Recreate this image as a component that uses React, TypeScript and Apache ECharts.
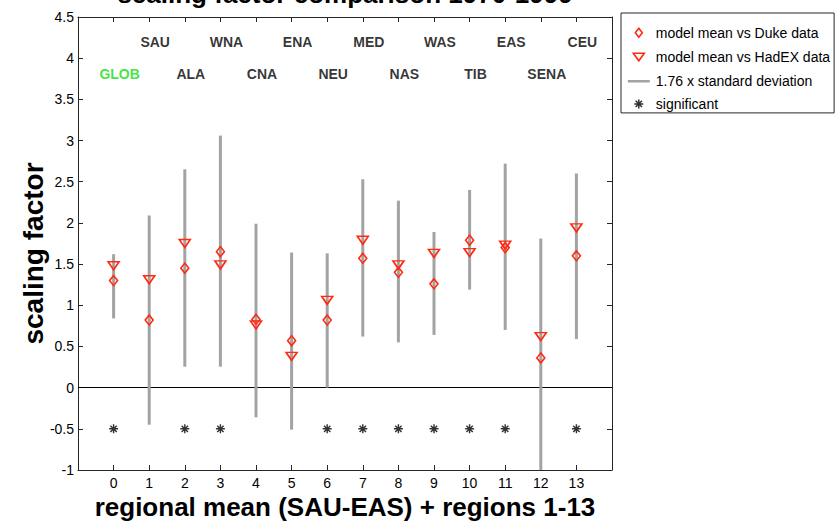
import React, { useEffect, useRef } from 'react';
import * as echarts from 'echarts';

// ---- data ----
const regionIndex = [0, 1, 2, 3, 4, 5, 6, 7, 8, 9, 10, 11, 12, 13];
const regionNames = ['GLOB', 'SAU', 'ALA', 'WNA', 'CNA', 'ENA', 'NEU', 'MED', 'NAS', 'WAS', 'TIB', 'EAS', 'SENA', 'CEU'];
const dukeMean = [1.3, 0.82, 1.45, 1.65, 0.83, 0.57, 0.82, 1.57, 1.4, 1.26, 1.79, 1.7, 0.36, 1.6];
const hadexMean = [1.48, 1.31, 1.75, 1.49, 0.76, 0.38, 1.06, 1.79, 1.49, 1.63, 1.64, 1.73, 0.62, 1.94];
const rangeLow = [0.84, -0.45, 0.255, 0.255, -0.36, -0.51, 0.0, 0.62, 0.55, 0.64, 1.19, 0.7, -1.09, 0.59];
const rangeHigh = [1.62, 2.09, 2.65, 3.06, 1.99, 1.64, 1.63, 2.53, 2.27, 1.89, 2.4, 2.72, 1.81, 2.6];
const significantIdx = [0, 2, 3, 6, 7, 8, 9, 10, 11, 13];
const significantLevel = -0.5;
const labelRowY = [3.81, 4.2]; // even-index row, odd-index row

const RED = '#ff2a10';
const GRAY = '#a3a3a3';
const FONT = '"Liberation Sans", Arial, Helvetica, sans-serif';
const AXIS = '#262626';

function asteriskPath(cx: number, cy: number, L: number, w: number) {
  let d = '';
  for (const deg of [0, 45, 90, 135]) {
    const t = (deg * Math.PI) / 180;
    const c = Math.cos(t);
    const s = Math.sin(t);
    const pts = [[-L, -w], [L, -w], [L, w], [-L, w]].map(([x, y]) => [cx + x * c - y * s, cy + x * s + y * c]);
    d += 'M' + pts.map((p) => p[0].toFixed(3) + ',' + p[1].toFixed(3)).join('L') + 'Z';
  }
  return d;
}

const LEG_PAD = 'M0,0M24,14';

export default function App() {
  const ref = useRef<HTMLDivElement>(null);
  useEffect(() => {
    if (!ref.current) return;
    const chart = echarts.init(ref.current, null, { renderer: 'svg' });

    const axisCommon = {
      type: 'value',
      axisLine: { show: true, onZero: false, lineStyle: { color: AXIS, width: 1 } },
      axisTick: { show: true, inside: true, length: 5, lineStyle: { color: AXIS } },
      splitLine: { show: false },
    };

    const option: any = {
      animation: false,
      backgroundColor: '#fff',
      textStyle: { fontFamily: FONT },
      grid: { left: 78, top: 17, right: 224, bottom: 52, containLabel: false, outerBoundsMode: 'none' },
      graphic: [
        {
          type: 'text',
          x: 345,
          y: 7,
          style: {
            text: 'scaling factor comparison 1970-1999',
            fontFamily: FONT,
            fontSize: 26,
            fontWeight: 'bold',
            fill: '#000',
            align: 'center',
            verticalAlign: 'bottom',
          },
        },
      ],
      xAxis: [
        {
          ...axisCommon,
          position: 'bottom',
          min: -1,
          max: 14,
          interval: 1,
          axisLabel: {
            show: true,
            margin: 8,
            fontSize: 14,
            lineHeight: 10,
            color: '#000',
            fontFamily: FONT,
            formatter: (v: number) => (v < regionIndex[0] || v > regionIndex[regionIndex.length - 1] ? '' : String(v)),
          },
          name: 'regional mean (SAU-EAS) + regions 1-13',
          nameLocation: 'middle',
          nameGap: 25,
          nameMoveOverlap: false,
          nameTextStyle: { fontSize: 26, lineHeight: 24, fontWeight: 'bold', color: '#000', fontFamily: FONT },
        },
        {
          ...axisCommon,
          position: 'top',
          min: -1,
          max: 14,
          interval: 1,
          axisLabel: { show: false },
        },
      ],
      yAxis: [
        {
          ...axisCommon,
          position: 'left',
          min: -1,
          max: 4.5,
          interval: 0.5,
          axisLabel: { show: true, margin: 4, fontSize: 14, color: '#000', fontFamily: FONT },
          name: 'scaling factor',
          nameLocation: 'middle',
          nameGap: 31,
          nameMoveOverlap: false,
          nameTextStyle: {
            fontSize: 28,
            fontWeight: 'bold',
            color: '#000',
            fontFamily: FONT,
            padding: [0, 20, 0, 0],
          },
        },
        {
          ...axisCommon,
          position: 'right',
          min: -1,
          max: 4.5,
          interval: 0.5,
          axisLabel: { show: false },
        },
      ],
      legend: {
        orient: 'vertical',
        left: 621,
        top: 13,
        itemWidth: 24,
        itemHeight: 14,
        itemGap: 8.9,
        padding: [12, 4, 2, 5],
        borderColor: AXIS,
        borderWidth: 1,
        backgroundColor: '#fff',
        selectedMode: false,
        textStyle: { fontFamily: FONT, fontSize: 14, color: '#000', lineHeight: 14 },
        data: [
          {
            name: 'model mean vs Duke data',
            icon: 'path://' + LEG_PAD + 'M12,2.5L15.5,7L12,11.5L8.5,7Z',
            itemStyle: { color: 'rgba(0,0,0,0)', borderColor: RED, borderWidth: 1.6 },
          },
          {
            name: 'model mean vs HadEX data',
            icon: 'path://' + LEG_PAD + 'M6.5,3L17.5,3L12,10.5Z',
            itemStyle: { color: 'rgba(0,0,0,0)', borderColor: RED, borderWidth: 1.6 },
          },
          {
            name: '1.76 x standard deviation',
            icon: 'path://' + LEG_PAD + 'M1,6L23,6L23,8.5L1,8.5Z',
            itemStyle: { color: GRAY, borderWidth: 0 },
          },
          {
            name: 'significant',
            icon: 'path://' + LEG_PAD + asteriskPath(12, 7, 4.5, 0.75),
            itemStyle: { color: '#000', borderWidth: 0 },
          },
        ],
      },
      series: [
        {
          name: '1.76 x standard deviation',
          type: 'custom',
          z: 2,
          data: regionIndex.map((x, i) => [x, rangeLow[i], rangeHigh[i]]),
          encode: { x: 0, y: [1, 2] },
          itemStyle: { color: GRAY },
          renderItem: (params: any, api: any) => {
            const x = api.value(0);
            const lo = api.value(1);
            const hi = api.value(2);
            const pHi = api.coord([x, hi]);
            const pLo = api.coord([x, lo]);
            const cs = params.coordSys;
            const y1 = Math.max(pHi[1], cs.y);
            const y2 = Math.min(pLo[1], cs.y + cs.height);
            return {
              type: 'line',
              shape: { x1: pHi[0], y1, x2: pHi[0], y2 },
              style: { stroke: GRAY, lineWidth: 3 },
            };
          },
          markLine: {
            silent: true,
            symbol: ['none', 'none'],
            label: { show: false },
            lineStyle: { color: '#000', width: 1, type: 'solid' },
            data: [{ yAxis: 0 }],
            z: 1,
          },
        },
        {
          name: 'model mean vs Duke data',
          type: 'scatter',
          z: 4,
          symbol: 'diamond',
          symbolSize: [8, 10],
          itemStyle: { color: 'rgba(0,0,0,0)', borderColor: RED, borderWidth: 1.6, opacity: 1 },
          data: regionIndex.map((x, i) => [x, dukeMean[i]]),
        },
        {
          name: 'model mean vs HadEX data',
          type: 'scatter',
          z: 4,
          symbol: 'triangle',
          symbolRotate: 180,
          symbolSize: [11, 8],
          itemStyle: { color: 'rgba(0,0,0,0)', borderColor: RED, borderWidth: 1.6, opacity: 1 },
          data: regionIndex.map((x, i) => [x, hadexMean[i]]),
        },
        {
          name: 'significant',
          type: 'scatter',
          z: 4,
          symbol: 'path://' + asteriskPath(5, 5, 5, 0.8),
          symbolSize: 9,
          itemStyle: { color: '#000' },
          data: significantIdx.map((i) => [regionIndex[i], significantLevel]),
        },
        {
          name: 'regions',
          type: 'scatter',
          z: 5,
          symbolSize: 1,
          silent: true,
          itemStyle: { color: 'rgba(0,0,0,0)' },
          label: {
            show: true,
            position: 'inside',
            offset: [6, 0],
            fontFamily: FONT,
            fontSize: 14,
            fontWeight: 'bold',
            color: '#000',
            formatter: (p: any) => p.name,
          },
          data: regionIndex.map((x, i) => ({
            name: regionNames[i],
            value: [x, labelRowY[i % 2]],
            label: i === 0 ? { color: '#11dd11' } : undefined,
          })),
        },
      ],
    };

    chart.setOption(option);
    return () => chart.dispose();
  }, []);

  return <div ref={ref} style={{ position: 'fixed', left: 0, top: 0, width: 836, height: 522 }} />;
}
